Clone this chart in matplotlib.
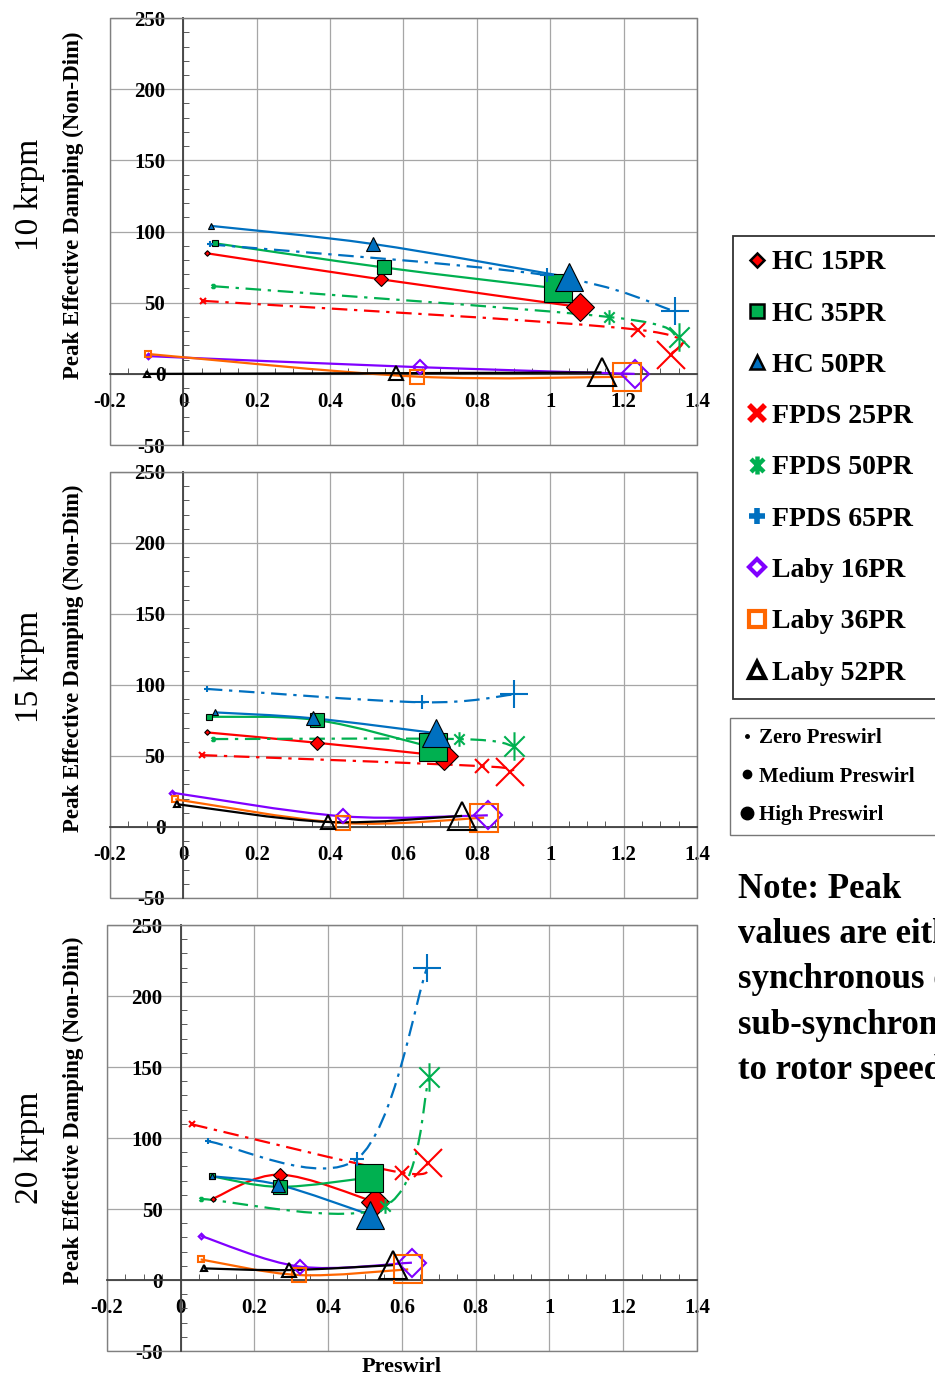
import numpy as np
import matplotlib.pyplot as plt
from matplotlib.path import Path
from matplotlib.patches import PathPatch, Rectangle
from matplotlib.lines import Line2D
from matplotlib.ticker import AutoMinorLocator

plt.rcParams['font.family'] = ['Liberation Serif', 'DejaVu Serif']

# séries (ordre de la légende)
series = ['HC 15PR', 'HC 35PR', 'HC 50PR', 'FPDS 25PR', 'FPDS 50PR',
          'FPDS 65PR', 'Laby 16PR', 'Laby 36PR', 'Laby 52PR']

# points : zéro / moyen / fort preswirl
preswirl_10krpm = [[0.065, 0.54, 1.08], [0.085, 0.546, 1.02], [0.075, 0.516, 1.05],
                   [0.054, 1.24, 1.33], [0.082, 1.16, 1.35], [0.072, 0.99, 1.34],
                   [-0.097, 0.644, 1.23], [-0.097, 0.636, 1.21], [-0.10, 0.58, 1.14]]
damping_10krpm = [[84.7, 66.4, 47], [91.8, 74.8, 60], [104, 91.3, 68],
                  [51.3, 31, 13], [61.6, 40, 26], [91, 69.4, 44],
                  [12.5, 4.7, 0], [14, -1.9, -2], [0, 0.5, 1]]

preswirl_15krpm = [[0.064, 0.364, 0.71], [0.071, 0.364, 0.68], [0.085, 0.354, 0.69],
                   [0.05, 0.814, 0.89], [0.08, 0.752, 0.90], [0.064, 0.651, 0.90],
                   [-0.032, 0.436, 0.83], [-0.022, 0.436, 0.82], [-0.016, 0.395, 0.76]]
damping_15krpm = [[66.6, 59.3, 50], [77.6, 75.3, 56], [80.7, 76.5, 66],
                  [50.6, 42.8, 39], [61.9, 61.9, 57], [97.2, 87.8, 93.3],
                  [24.2, 7.5, 8.2], [19.5, 2.8, 6.5], [16, 3.5, 7.8]]

preswirl_20krpm = [[0.088, 0.269, 0.526], [0.086, 0.269, 0.511], [0.086, 0.264, 0.513],
                   [0.031, 0.599, 0.670], [0.054, 0.554, 0.674], [0.073, 0.479, 0.668],
                   [0.054, 0.324, 0.627], [0.054, 0.321, 0.617], [0.062, 0.293, 0.577]]
damping_20krpm = [[57.4, 74.2, 55], [73, 65.6, 72.1], [73, 67.2, 46],
                  [109.6, 75.6, 82.4], [57.1, 52, 142.9], [97.7, 85.5, 220],
                  [31.1, 9.4, 12.2], [14.5, 3.5, 7.5], [8.2, 7, 10.5]]

colors = ['#FF0000', '#00B050', '#0070C0', '#FF0000', '#00B050', '#0070C0',
          '#8000FF', '#FF6600', '#000000']

# marqueur étoile d'Excel (X + barre verticale)
star = Path([(-1, -1), (1, 1), (-1, 1), (1, -1), (0, -1.4), (0, 1.4)],
            [Path.MOVETO, Path.LINETO, Path.MOVETO, Path.LINETO, Path.MOVETO, Path.LINETO])
markers = ['D', 's', '^', 'x', star, '+', 'D', 's', '^']
dashdot = (0, (7, 3, 1.5, 3))


def smooth(xs, ys):
    # ligne lissée façon Excel (Catmull-Rom -> Bézier)
    pts = np.column_stack([xs, ys])
    verts, codes = [pts[0]], [Path.MOVETO]
    n = len(pts)
    for i in range(n - 1):
        p0 = pts[max(i - 1, 0)]
        p1, p2 = pts[i], pts[i + 1]
        p3 = pts[min(i + 2, n - 1)]
        verts += [p1 + (p2 - p0) / 6, p2 - (p3 - p1) / 6, p2]
        codes += [Path.CURVE4] * 3
    return Path(verts, codes)


def draw_panel(ax, xs_all, ys_all):
    ax.set_xlim(-0.2, 1.4)
    ax.set_ylim(-50, 250)
    ax.grid(True, color='#A6A6A6', lw=0.9)
    ax.set_axisbelow(True)
    for k in range(len(series)):
        xs, ys = xs_all[k], ys_all[k]
        c = colors[k]
        ls = dashdot if series[k].startswith('FPDS') else '-'
        ax.add_patch(PathPatch(smooth(xs, ys), facecolor='none', edgecolor=c,
                               lw=1.6, linestyle=ls, zorder=3))
        for j, ms in enumerate([4, 10.5, 20.5]):
            m = markers[k]
            size = ms / 1.41 if m == 'D' else ms
            if series[k].startswith('HC'):
                ax.plot(xs[j], ys[j], marker=m, ms=size, mfc=c, mec='black',
                        mew=0.8, ls='none', zorder=4)
            else:
                ax.plot(xs[j], ys[j], marker=m, ms=size, mfc='none', mec=c,
                        mew=1.5, ls='none', zorder=4)

    # axes qui se croisent à l'origine
    ax.spines['left'].set_position(('data', 0))
    ax.spines['bottom'].set_position(('data', 0))
    for s in ['left', 'bottom']:
        ax.spines[s].set_color('#404040')
        ax.spines[s].set_linewidth(1.3)
        ax.spines[s].set_zorder(2.5)
    for s in ['top', 'right']:
        ax.spines[s].set_color('#808080')
    ax.add_patch(Rectangle((0, 0), 1, 1, transform=ax.transAxes, fill=False,
                           ec='#808080', lw=1, clip_on=False, zorder=2))

    ax.set_xticks(np.arange(-0.2, 1.41, 0.2))
    ax.set_xticklabels(['-0.2', '0', '0.2', '0.4', '0.6', '0.8', '1', '1.2', '1.4'])
    ax.set_yticks(np.arange(-50, 251, 50))
    ax.set_yticklabels(['-50', '0', '50', '100', '150', '200', '250'])
    ax.xaxis.set_minor_locator(AutoMinorLocator(4))
    ax.yaxis.set_minor_locator(AutoMinorLocator(5))
    ax.tick_params(which='major', length=0, labelsize=15, pad=13)
    ax.tick_params(which='minor', direction='in', length=4, color='#404040')
    for lab in ax.get_xticklabels() + ax.get_yticklabels():
        lab.set_fontweight('bold')


fig = plt.figure(figsize=(9.35, 13.8), dpi=100)

ax1 = fig.add_axes([0.1176, 0.6775, 0.6278, 0.3094])
ax2 = fig.add_axes([0.1176, 0.3493, 0.6278, 0.3087])
ax3 = fig.add_axes([0.1144, 0.0210, 0.6310, 0.3087])

draw_panel(ax1, preswirl_10krpm, damping_10krpm)
draw_panel(ax2, preswirl_15krpm, damping_15krpm)
draw_panel(ax3, preswirl_20krpm, damping_20krpm)

# titres verticaux
for yc, speed in [(195, '10 krpm'), (667, '15 krpm'), (1148, '20 krpm')]:
    fig.text(30 / 935, 1 - yc / 1380, speed, rotation=90, ha='center',
             va='center', fontsize=24)
for yc in [205, 658, 1110]:
    fig.text(73 / 935, 1 - yc / 1380, 'Peak Effective Damping (Non-Dim)',
             rotation=90, ha='center', va='center', fontsize=16.5, fontweight='bold')
fig.text(402 / 935, 1 - 1367 / 1380, 'Preswirl', ha='center', va='center',
         fontsize=16, fontweight='bold')

# légende des séries
handles = []
for k, name in enumerate(series):
    m = markers[k]
    if name.startswith('HC'):
        h = Line2D([], [], ls='none', marker=m, ms=10 if m != 'D' else 7.5,
                   mfc=colors[k], mec='black', mew=1.8)
    elif name.startswith('Laby'):
        h = Line2D([], [], ls='none', marker=m, ms=11 if m != 'D' else 8,
                   mfc='white', mec=colors[k], mew=3)
    elif m is star:
        h = Line2D([], [], ls='none', marker=m, ms=13, mfc='none',
                   mec=colors[k], mew=3.2)
    else:
        h = Line2D([], [], ls='none', marker=m, ms=12, mfc='none',
                   mec=colors[k], mew=4)
    handles.append(h)
leg1 = fig.legend(handles, series, loc='upper left',
                  bbox_to_anchor=(733 / 935, 1 - 236 / 1380, 0.25, 0),
                  mode='expand', frameon=True, fancybox=False, edgecolor='black',
                  prop={'size': 20, 'weight': 'bold'}, handlelength=0.75,
                  handletextpad=0.15, labelspacing=0.93, borderpad=0.5,
                  borderaxespad=0)
leg1.get_frame().set_linewidth(1.3)

# légende des tailles de preswirl
h2 = [Line2D([], [], ls='none', marker='o', ms=s, color='black') for s in [2.5, 6, 9]]
leg2 = fig.legend(h2, ['Zero Preswirl', 'Medium Preswirl', 'High Preswirl'],
                  loc='upper left', bbox_to_anchor=(730 / 935, 1 - 718 / 1380, 0.25, 0),
                  mode='expand', frameon=True, fancybox=False, edgecolor='#555555',
                  prop={'size': 15, 'weight': 'bold'}, handlelength=0.6,
                  handletextpad=0.3, labelspacing=0.88, borderpad=0.5,
                  borderaxespad=0)

fig.text(738 / 935, 1 - 873 / 1380,
         'Note: Peak\nvalues are either\nsynchronous or\nsub-synchronous\nto rotor speed',
         ha='left', va='top', fontsize=25, fontweight='bold', linespacing=1.49)

fig.savefig('out.png', dpi=100)
